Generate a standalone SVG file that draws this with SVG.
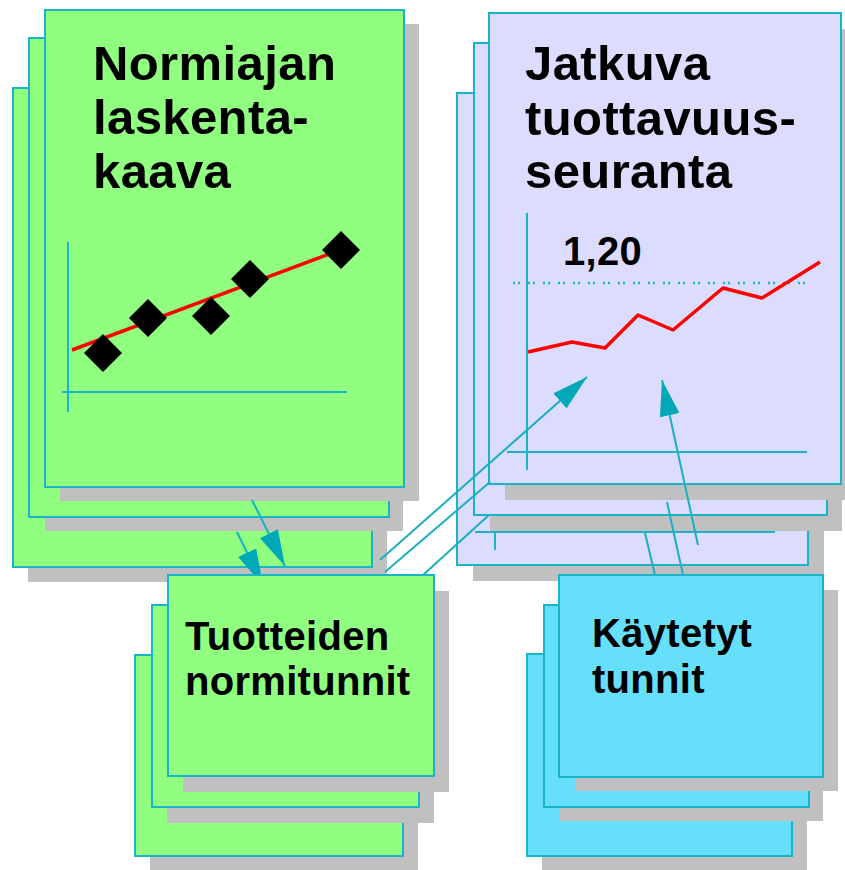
<svg xmlns="http://www.w3.org/2000/svg" width="845" height="870" viewBox="0 0 845 870">
<defs>
<style>
.sh{fill:#C0C0C0}
.pg{stroke:#1AB4C8;stroke-width:2}
.g{fill:#90FF80}
.l{fill:#DCDCFF}
.c{fill:#66E0FA}
.ax{stroke:#1AB4C8;stroke-width:2;fill:none}
.red{stroke:#FF0000;stroke-width:3.5;fill:none;stroke-linejoin:round}
.dot{stroke:#1AB4C8;stroke-width:2.5;fill:none;stroke-dasharray:2 3 2 8}
.lbl{font-family:"Liberation Sans",Arial,Helvetica,sans-serif;font-weight:bold;fill:#000}
.big{font-size:49px;letter-spacing:0.4px}
.mid{font-size:40px;letter-spacing:0.3px}
.conn{stroke:#18B0C0;stroke-width:2;fill:none}
</style>
<marker id="ah" viewBox="0 0 36 20" refX="36" refY="10" markerWidth="36" markerHeight="20" markerUnits="userSpaceOnUse" orient="auto">
<path d="M0,0 L36,10 L0,20 Z" fill="#00A8B8"/>
</marker>
</defs>
<rect width="845" height="870" fill="#FFFFFF"/>

<g id="node-normiajan">
<rect class="sh" x="28" y="103" width="359" height="479"/>
<rect class="pg g" x="13" y="88" width="359" height="479"/>
<rect class="sh" x="45" y="53" width="358" height="478"/>
<rect class="pg g" x="29" y="38" width="360" height="479"/>
<rect class="sh" x="60" y="24" width="359" height="477"/>
<rect class="pg g" x="45" y="10" width="359" height="477"/>
<line class="ax" x1="68" y1="242" x2="68" y2="412"/>
<line class="ax" x1="62" y1="392" x2="347" y2="392"/>
<line class="red" x1="72" y1="350" x2="340" y2="250"/>
<g fill="#000">
<polygon points="103,334 122,353 103,372 84,353"/>
<polygon points="148,299 167,318 148,337 129,318"/>
<polygon points="211,297 230,316 211,335 192,316"/>
<polygon points="250,260 269,279 250,298 231,279"/>
<polygon points="341,231 360,250 341,269 322,250"/>
</g>
<text class="lbl big" x="93" y="80">Normiajan</text>
<text class="lbl big" x="93" y="134">laskenta-</text>
<text class="lbl big" x="93" y="188">kaava</text>
</g>

<g id="node-jatkuva">
<rect class="sh" x="473" y="109" width="351" height="472"/>
<rect class="pg l" x="457" y="93" width="351" height="472"/>
<line class="ax" x1="475" y1="532" x2="775" y2="532"/>
<line class="ax" x1="495" y1="293" x2="495" y2="550"/>
<rect class="sh" x="490" y="59" width="352" height="472"/>
<rect class="pg l" x="474" y="43" width="353" height="472"/>
<rect class="sh" x="505" y="29" width="352" height="471"/>
<rect class="pg l" x="489" y="13" width="352" height="471"/>
<line class="ax" x1="527" y1="213" x2="527" y2="470"/>
<line class="ax" x1="507" y1="452" x2="807" y2="452"/>
<line class="dot" x1="513" y1="283" x2="808" y2="283"/>
<polyline class="red" points="528,352 572,342 605,348 638,315 673,330 723,288 762,298 820,262"/>
<text class="lbl mid" x="563" y="265">1,20</text>
<text class="lbl big" x="525" y="80">Jatkuva</text>
<text class="lbl big" x="525" y="135">tuottavuus-</text>
<text class="lbl big" x="525" y="188">seuranta</text>
</g>

<g id="connectors">
<line class="conn" x1="252" y1="500" x2="285" y2="566" marker-end="url(#ah)"/>
<line class="conn" x1="237" y1="532" x2="263" y2="585" marker-end="url(#ah)"/>
<line class="conn" x1="380" y1="560" x2="587" y2="377" marker-end="url(#ah)"/>
<line class="conn" x1="385" y1="572" x2="490" y2="482"/>
<line class="conn" x1="423" y1="575" x2="489" y2="515"/>
<line class="conn" x1="698" y1="545" x2="662" y2="380" marker-end="url(#ah)"/>
<line class="conn" x1="683" y1="575" x2="667" y2="502"/>
<line class="conn" x1="655" y1="575" x2="645" y2="533"/>
</g>

<g id="node-tuotteiden">
<rect class="sh" x="150" y="671" width="268" height="201"/>
<rect class="pg g" x="135" y="655" width="268" height="201"/>
<rect class="sh" x="167" y="621" width="267" height="202"/>
<rect class="pg g" x="152" y="605" width="267" height="202"/>
<rect class="sh" x="183" y="591" width="266" height="201"/>
<rect class="pg g" x="168" y="575" width="266" height="201"/>
<text class="lbl mid" x="185" y="650">Tuotteiden</text>
<text class="lbl mid" x="185" y="695">normitunnit</text>
</g>

<g id="node-kaytetyt">
<rect class="sh" x="542" y="670" width="265" height="202"/>
<rect class="pg c" x="527" y="654" width="265" height="202"/>
<rect class="sh" x="559" y="620" width="264" height="201"/>
<rect class="pg c" x="544" y="605" width="265" height="202"/>
<rect class="sh" x="575" y="590" width="263" height="201"/>
<rect class="pg c" x="559" y="575" width="264" height="202"/>
<text class="lbl mid" x="592" y="647">Käytetyt</text>
<text class="lbl mid" x="592" y="693">tunnit</text>
</g>
</svg>
